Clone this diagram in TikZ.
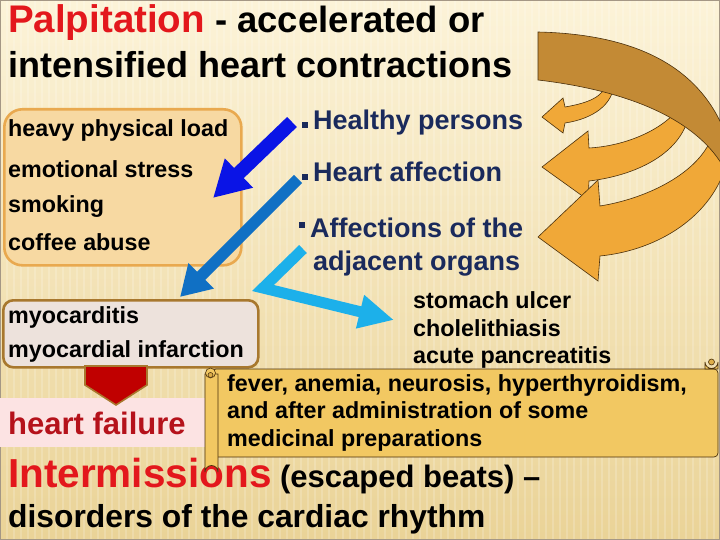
\documentclass[tikz,border=0pt]{standalone}
\usepackage{fontspec}
\setmainfont{Liberation Sans}
\usetikzlibrary{arrows.meta}
\definecolor{bgtop}{HTML}{FCF3D8}
\definecolor{bgbot}{HTML}{EAD397}
\definecolor{titlered}{HTML}{E3171C}
\definecolor{navy}{HTML}{1A2A5C}
\definecolor{boxfill}{HTML}{F7D9A2}
\definecolor{boxline}{HTML}{E9A94F}
\definecolor{myofill}{HTML}{EDE2DC}
\definecolor{myoline}{HTML}{A8782E}
\definecolor{darkred}{HTML}{C00000}
\definecolor{hfred}{HTML}{B5121B}
\definecolor{hfpink}{HTML}{FCE3E3}
\definecolor{blueA}{HTML}{0A14E6}
\definecolor{blueB}{HTML}{1070C4}
\definecolor{blueC}{HTML}{1CB0EA}
\definecolor{brownring}{HTML}{C38A35}
\definecolor{orangearr}{HTML}{F0A838}
\definecolor{outl}{HTML}{4A300C}
\definecolor{scrollfill}{HTML}{F2C862}
\definecolor{scrolldark}{HTML}{DDAE4A}
\newcommand\bodyfnt{\fontsize{23.3}{26}\selectfont\bfseries}
\newcommand\navyfnt{\fontsize{27}{30}\selectfont\bfseries}
\tikzset{
  txt/.style={inner sep=0pt, anchor=base west, font=\bodyfnt, text=black},
  navytxt/.style={inner sep=0pt, anchor=base west, font=\navyfnt, text=navy},
  sqbullet/.style={fill=navy, draw=none},
  orangeshape/.style={fill=orangearr, draw=outl, line width=0.6pt, line join=miter},
  brownshape/.style={fill=brownring, draw=outl, line width=0.6pt},
  scrollshape/.style={fill=scrollfill, draw=outl, line width=0.7pt},
}
\begin{document}
\begin{tikzpicture}[x=1pt,y=-1pt]
\useasboundingbox (0,0) rectangle (720,540);
% background
\shade[top color=bgtop, bottom color=bgbot] (0,0) rectangle (720,540);
\foreach \i in {0,7,...,720} {\draw[white, opacity=0.18, line width=2pt] (\i,0) -- (\i,540);}
\draw[color=outl!50, line width=0.8pt] (0.4,0.4) rectangle (719.6,539.6);

% title
\node[inner sep=0pt, anchor=base west] (title1) at (8,33)
  {\fontsize{38.5}{40}\selectfont\bfseries\textcolor{titlered}{Palpitation}\fontsize{36.5}{40}\selectfont{} - accelerated or};
\node[inner sep=0pt, anchor=base west, font=\fontsize{36}{40}\selectfont\bfseries] (title2) at (8,78)
  {intensified heart contractions};

% orange circular arrows
\path[orangeshape] (542,117) -- (563,98) -- (565,107) .. controls (588,103) and (604,97) .. (607,82)
  -- (614,82) .. controls (614,105) and (592,119) .. (565,123) -- (563,133) -- cycle;
\path[orangeshape] (542,167) -- (588,131) -- (589,148) .. controls (625,146) and (665,130) .. (682,104)
  -- (690,106) .. controls (688,150) and (640,175) .. (589,181) -- (588,200) -- cycle;
\path[orangeshape] (538,237) -- (598,180) -- (600,206) .. controls (650,198) and (705,170) .. (714,130)
  -- (726,125) -- (726,165) .. controls (712,215) and (660,250) .. (600,256) -- (598,281) -- cycle;
\path[brownshape] (538,32) .. controls (625,34) and (695,60) .. (724,130) -- (724,168)
  .. controls (700,125) and (640,92) .. (538,80) -- cycle;

% left box
\node[draw=boxline, fill=boxfill, line width=2.6pt, rounded corners=18pt, minimum width=237pt,
      minimum height=156pt, anchor=north west, inner sep=0pt] (causebox) at (3,108) {};
\node[txt] (l1) at (8,137) {heavy physical load};
\node[txt] (l2) at (8,178) {emotional stress};
\node[txt] (l3) at (8,212) {smoking};
\node[txt] (l4) at (8,250) {coffee abuse};

% right column
\fill[sqbullet] (301.5,122) rectangle (308,128.5);
\node[navytxt] (r1) at (313,130) {Healthy persons};
\fill[sqbullet] (301.5,174) rectangle (308,180.5);
\node[navytxt] (r2) at (313,182) {Heart affection};
\fill[sqbullet] (298.5,222) rectangle (305,228.5);
\node[navytxt] (r3) at (310,237) {Affections of the};
\node[navytxt] (r4) at (313,270) {adjacent organs};

% blue arrows
\coordinate (bAs) at (292,122);
\coordinate (bAe) at (213,198);
\draw[blueA, line width=14pt, -{Triangle[length=36pt, width=38pt]}] (bAs) -- (bAe);
\coordinate (bBs) at (298,179);
\coordinate (bBe) at (180,297);
\draw[blueB, line width=11.5pt, -{Triangle[length=30pt, width=34pt]}] (bBs) -- (bBe);
\coordinate (bCs) at (303,249);
\coordinate (bCm) at (263,288);
\coordinate (bCe) at (394,320);
\draw[blueC, line width=11pt, line join=miter, -{Triangle[length=35pt, width=32pt]}] (bCs) -- (bCm) -- (bCe);

% myocarditis box
\node[draw=myoline, fill=myofill, line width=2.6pt, rounded corners=10pt, minimum width=255pt,
      minimum height=67pt, anchor=north west, inner sep=0pt] (myobox) at (2,299) {};
\node[txt] (m1) at (8,323) {myocarditis};
\node[txt] (m2) at (8,357) {myocardial infarction};

% organs list
\node[txt] (o1) at (413,308) {stomach ulcer};
\node[txt] (o2) at (413,336) {cholelithiasis};
\node[txt] (o3) at (413,363) {acute pancreatitis};

% heart failure
\fill[hfpink] (0,398) rectangle (205,447);
\node[inner sep=0pt, anchor=base west, font=\fontsize{31}{34}\selectfont\bfseries, text=hfred] (hf) at (8,434) {heart failure};
\path[fill=darkred, draw=myoline, line width=1.6pt, line join=miter] (85,366) -- (147,366) -- (147,385) -- (116,405) -- (85,385) -- cycle;

% bottom (drawn before the scroll roll, which lies over it)
\node[inner sep=0pt, anchor=base west] (int) at (8,487)
  {\fontsize{40.5}{44}\selectfont\bfseries\textcolor{titlered}{Intermissions}\fontsize{31}{36}\selectfont{} (escaped beats) –};
\node[inner sep=0pt, anchor=base west, font=\fontsize{31.8}{38}\selectfont\bfseries] (dis) at (8,527)
  {disorders of the cardiac rhythm};

% scroll
\path[scrollshape, rounded corners=4pt] (212,369) -- (718,369) -- (718,457) -- (212,457) -- cycle;
\path[scrollshape] (705,369) -- (705,362) arc[start angle=180, end angle=0, radius=6.5] -- (718,369) -- cycle;
\path[fill=scrolldark, draw=outl, line width=0.6pt] (711.5,362) circle[radius=3];
\path[scrollshape] (205,374) -- (205,472) arc[start angle=180, end angle=360, radius=6.5] -- (218,374) -- cycle;
\path[fill=scrollfill, draw=outl, line width=0.6pt] (210.5,373) circle[radius=5];
\path[fill=scrolldark, draw=outl, line width=0.6pt] (210.5,375) circle[radius=2.5];
\node[txt] (s1) at (227,391) {fever, anemia, neurosis, hyperthyroidism,};
\node[txt] (s2) at (227,418) {and after administration of some};
\node[txt] (s3) at (227,446) {medicinal preparations};
\end{tikzpicture}
\end{document}
